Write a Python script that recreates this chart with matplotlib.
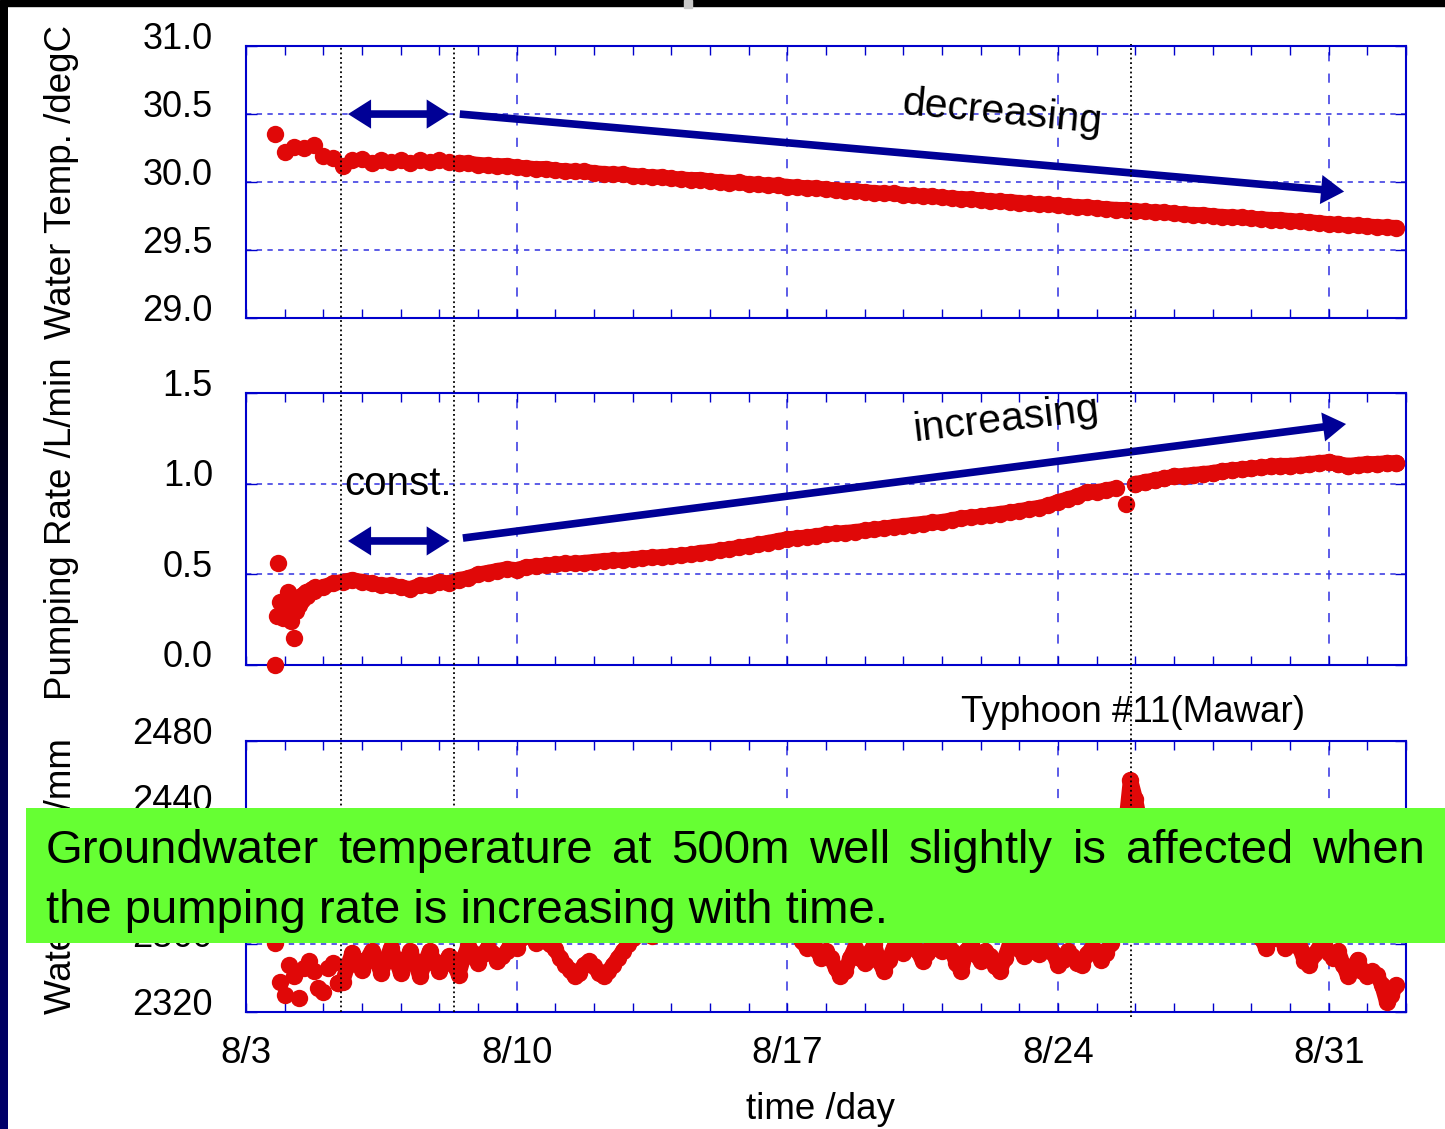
import numpy as np
import matplotlib
matplotlib.use('Agg')
from matplotlib import pyplot as plt
from matplotlib import transforms
from matplotlib.patches import Rectangle, FancyArrowPatch
from matplotlib.lines import Line2D
from matplotlib.colors import LinearSegmentedColormap

#time axis is days counted from 8/3 00:00
#water temperature, every 6 hours from 8/3 18:00
temp_start, temp_step = 0.75, 0.25
temp = [30.35, 30.22, 30.26, 30.25,
        30.27, 30.19, 30.18, 30.12,
        30.16, 30.17, 30.14, 30.16,
        30.15, 30.16, 30.14, 30.16,
        30.15, 30.16, 30.15, 30.14,
        30.140, 30.128, 30.125, 30.118,
        30.121, 30.108, 30.104, 30.097,
        30.099, 30.087, 30.082, 30.078,
        30.078, 30.068, 30.062, 30.057,
        30.058, 30.047, 30.043, 30.036,
        30.037, 30.027, 30.022, 30.017,
        30.018, 30.007, 30.002, 29.996,
        29.997, 29.987, 29.983, 29.977,
        29.976, 29.967, 29.962, 29.957,
        29.956, 29.947, 29.942, 29.937,
        29.936, 29.927, 29.922, 29.917,
        29.916, 29.907, 29.902, 29.896,
        29.896, 29.887, 29.882, 29.877,
        29.876, 29.867, 29.862, 29.857,
        29.856, 29.848, 29.843, 29.838,
        29.837, 29.829, 29.824, 29.818,
        29.817, 29.808, 29.803, 29.798,
        29.797, 29.788, 29.784, 29.779,
        29.778, 29.770, 29.765, 29.760,
        29.759, 29.751, 29.746, 29.742,
        29.741, 29.733, 29.729, 29.724,
        29.723, 29.716, 29.712, 29.707,
        29.700, 29.693, 29.688, 29.684,
        29.682, 29.676, 29.671, 29.668,
        29.665]

#pumping rate, hourly during start-up then every 6 hours
pump_early_start, pump_early_step = 0.75, 1.0 / 24
pump_early = [0.00, 0.27, 0.56, 0.35, 0.28, 0.26, 0.33, 0.36, 0.40, 0.30,
              0.24, 0.34, 0.15, 0.30, 0.36, 0.33, 0.38, 0.36, 0.39, 0.40,
              0.38, 0.41, 0.40, 0.42, 0.41, 0.43]
pump_start, pump_step = 2.0, 0.25
pump = [0.43, 0.45, 0.46, 0.47,
        0.46, 0.45, 0.44, 0.44,
        0.43, 0.42, 0.44, 0.44,
        0.46, 0.45, 0.47, 0.48,
        0.50, 0.51, 0.52, 0.53,
        0.525, 0.54, 0.545, 0.55,
        0.555, 0.56, 0.56, 0.565,
        0.57, 0.575, 0.578, 0.58,
        0.585, 0.59, 0.593, 0.597,
        0.60, 0.605, 0.61, 0.62,
        0.625, 0.632, 0.64, 0.648,
        0.657, 0.665, 0.675, 0.685,
        0.695, 0.70, 0.705, 0.712,
        0.72, 0.726, 0.73, 0.735,
        0.742, 0.748, 0.754, 0.762,
        0.768, 0.774, 0.78, 0.786,
        0.79, 0.80, 0.81, 0.815,
        0.82, 0.828, 0.835, 0.842,
        0.85, 0.86, 0.868, 0.88,
        0.90, 0.915, 0.93, 0.955,
        0.955, 0.965, 0.975, 0.89,
        1.00, 1.01, 1.02, 1.03,
        1.04, 1.045, 1.05, 1.055,
        1.06, 1.07, 1.075, 1.08,
        1.085, 1.09, 1.095, 1.10,
        1.10, 1.105, 1.11, 1.115,
        1.12, 1.11, 1.10, 1.105,
        1.11, 1.11, 1.115, 1.115]

#water level, every 3 hours from 8/3 18:00
level_start, level_step = 0.75, 0.125
level = [2361, 2338, 2330, 2348, 2341, 2328, 2346, 2350,
         2344, 2334, 2332, 2346, 2349, 2337, 2338, 2347,
         2355, 2350, 2345, 2351, 2356, 2350, 2343, 2351,
         2358, 2351, 2343, 2350, 2356, 2349, 2341, 2349,
         2356, 2350, 2344, 2349, 2353, 2348, 2342, 2352,
         2359, 2355, 2349, 2354, 2358, 2355, 2350, 2353,
         2356, 2362, 2358, 2364, 2368, 2365, 2361, 2364,
         2362, 2360, 2357, 2352, 2348, 2345, 2341, 2343,
         2348, 2350, 2347, 2343, 2341, 2344, 2348, 2352,
         2356, 2360, 2364, 2368, 2372, 2368, 2365, 2370,
         2376, 2372, 2368, 2374, 2380, 2376, 2371, 2377,
         2383, 2379, 2374, 2379, 2384, 2380, 2375, 2379,
         2383, 2378, 2373, 2377, 2380, 2375, 2370, 2373,
         2376, 2371, 2366, 2368, 2366, 2362, 2358, 2362,
         2357, 2352, 2356, 2352, 2346, 2341, 2344, 2352,
         2358, 2352, 2349, 2355, 2360, 2350, 2344, 2351,
         2358, 2360, 2355, 2358, 2362, 2356, 2350, 2355,
         2361, 2358, 2356, 2362, 2356, 2349, 2344, 2356,
         2360, 2354, 2350, 2356, 2353, 2347, 2344, 2352,
         2360, 2363, 2357, 2353, 2358, 2356, 2354, 2358,
         2361, 2355, 2348, 2351, 2356, 2353, 2349, 2348,
         2354, 2358, 2356, 2351, 2355, 2361, 2370, 2385,
         2430, 2457, 2446, 2432, 2425, 2418, 2412, 2408,
         2402, 2398, 2395, 2390, 2388, 2384, 2380, 2383,
         2386, 2381, 2376, 2380, 2383, 2378, 2373, 2377,
         2380, 2374, 2369, 2372, 2364, 2358, 2363, 2368,
         2364, 2358, 2363, 2367, 2358, 2350, 2348, 2354,
         2358, 2360, 2355, 2352, 2356, 2348, 2341, 2346,
         2351, 2344, 2341, 2344, 2342, 2336, 2326, 2330,
         2336]

date_ticks = [0, 7, 14, 21, 28]
date_labels = ['8/3', '8/10', '8/17', '8/24', '8/31']
event_days = [2.455, 5.375, 22.9]

temp_ticks = [29.0, 29.5, 30.0, 30.5, 31.0]
pump_ticks = [0.0, 0.5, 1.0, 1.5]
level_ticks = [2320, 2360, 2400, 2440, 2480]

red = '#e00808'
navy = '#000096'
frame = '#0000cc'
gridc = '#3030e0'

plt.rcParams['font.family'] = ['Liberation Sans', 'DejaVu Sans']

fig = plt.figure(figsize=(14.45, 11.29), dpi=100)
fig.patch.set_facecolor('white')

L, W = 0.1702, 0.8028
ax1 = fig.add_axes([L, 0.7183, W, 0.2409])
ax2 = fig.add_axes([L, 0.4110, W, 0.2409])
ax3 = fig.add_axes([L, 0.1036, W, 0.2400])

#panel setup: blue frame, dashed grid, inward ticks
for ax, ticks, lim, fmt, ylab in [
        (ax1, temp_ticks, (29.0, 31.0), '{:.1f}', 'Water Temp. /degC'),
        (ax2, pump_ticks, (0.0, 1.5), '{:.1f}', 'Pumping Rate /L/min'),
        (ax3, level_ticks, (2320, 2480), '{:d}', 'Water Level /mm')]:
    ax.set_xlim(0, 30)
    ax.set_ylim(*lim)
    ax.set_xticks(date_ticks)
    ax.set_xticks(np.arange(0, 31), minor=True)
    ax.set_yticks(ticks)
    ax.yaxis.set_minor_locator(plt.NullLocator())
    for s in ax.spines.values():
        s.set_color(frame)
        s.set_linewidth(1.5)
    ax.tick_params(which='both', direction='in', top=True, right=True,
                   color=frame, labelleft=False, labelbottom=False)
    ax.tick_params(axis='x', which='both', length=6.5, width=1.0)
    ax.tick_params(axis='y', length=8, width=1.0)
    ax.xaxis.grid(True, color=gridc, linestyle=(0, (6, 8)), linewidth=1.1)
    ax.yaxis.grid(True, color=gridc, linestyle=(0, (3.5, 3.5)), linewidth=1.1)
    ax.set_axisbelow(True)
    #tick labels sit a little above their ticks
    lab_tr = (transforms.blended_transform_factory(ax.transAxes, ax.transData)
              + transforms.ScaledTranslation(0, 7 / 100, fig.dpi_scale_trans))
    for v in ticks:
        ax.text(-0.0284, v, fmt.format(v), transform=lab_tr, ha='right',
                va='center', fontsize=26, color='black')
    ax.set_ylabel(ylab, fontsize=26.5)
    ax.yaxis.set_label_coords(-0.144, 0.5)

ax3.tick_params(labelbottom=True)
ax3.set_xticks(date_ticks, date_labels, fontsize=26.5)
ax3.tick_params(axis='x', pad=17)
ax3.set_xlabel('time /day', fontsize=26.5)
ax3.xaxis.set_label_coords(0.495, -0.295)

#measured series: dense dots, so they merge into a thick band
band = dict(marker='o', ms=12.5, mew=0, color=red, lw=11,
            solid_capstyle='round', solid_joinstyle='round', clip_on=False, zorder=3)
dots = dict(marker='o', ms=12.5, mew=0, color=red, linestyle='none',
            clip_on=False, zorder=3)
t_temp = temp_start + temp_step * np.arange(len(temp))
ax1.plot(t_temp[:20], temp[:20], **dots)
ax1.plot(t_temp[19:], temp[19:], **band)
t_pe = pump_early_start + pump_early_step * np.arange(len(pump_early))
t_p = pump_start + pump_step * np.arange(len(pump))
ax2.plot(t_pe, pump_early, **dots)
ax2.plot(t_p[:83], pump[:83], **band)
ax2.plot(t_p[83:], pump[83:], **dots)
ax2.plot(t_p[84:], pump[84:], **band)
t_lv = level_start + level_step * np.arange(len(level))
ax3.plot(t_lv[:14], level[:14], **dots)
ax3.plot(t_lv[13:], level[13:], **band)

#trend arrows
def arrow(ax, p0, p1, style):
    ax.add_patch(FancyArrowPatch(p0, p1, arrowstyle=style, mutation_scale=1,
                                 lw=5.5, color=navy, shrinkA=0, shrinkB=0,
                                 joinstyle='miter', capstyle='butt',
                                 clip_on=False, zorder=4))

head = 'head_length=8.7,head_width=5.5'
arrow(ax1, (2.64, 30.5), (5.27, 30.5), '<|-|>,' + head)
arrow(ax1, (5.53, 30.5), (28.4, 29.93), '-|>,' + head)
arrow(ax2, (2.64, 0.684), (5.27, 0.684), '<|-|>,' + head)
arrow(ax2, (5.61, 0.70), (28.45, 1.329), '-|>,' + head)

ax1.text(19.56, 30.51, 'decreasing', fontsize=29.5, rotation=-5.5,
         ha='center', va='center', clip_on=False, zorder=5)
ax2.text(19.66, 1.351, 'increasing', fontsize=29.5, rotation=6.5,
         ha='center', va='center', clip_on=False, zorder=5)
ax2.text(3.93, 0.998, 'const.', fontsize=29, ha='center', va='center',
         clip_on=False, zorder=5)
ax3.text(22.95, 2497, 'Typhoon #11(Mawar)', fontsize=26.5, ha='center',
         va='center', clip_on=False, zorder=5)

#dotted markers for the events, running through all panels
top = ax1.get_position().y1
bot = ax3.get_position().y0
ev_tr = transforms.blended_transform_factory(ax1.transData, fig.transFigure)
for i, d in enumerate(event_days):
    ext = 0.004 if i == 2 else 0.0
    fig.add_artist(Line2D([d, d], [bot - ext, top + ext * 0.5], transform=ev_tr,
                          color='black', linestyle=(0, (1, 1.6)), lw=1.3, zorder=6))

#slide frame: black strip on top, dark strip on the left
fig.add_artist(Rectangle((0, 1 - 6 / 1129), 1, 6 / 1129, transform=fig.transFigure,
                         color='black', zorder=8))
fig.add_artist(Rectangle((684 / 1445, 1 - 8 / 1129), 8 / 1445, 8 / 1129,
                         transform=fig.transFigure, color='#c8c8c8', zorder=9))
side = fig.add_axes([0, 0, 8 / 1445, 1 - 6 / 1129], zorder=7)
side.imshow(np.linspace(0, 1, 256).reshape(-1, 1), aspect='auto',
            cmap=LinearSegmentedColormap.from_list('side', ['#000000', '#000010', '#000050', '#00006a']))
side.axis('off')

#green note box
bx0, by0, by1 = 26 / 1445, 1 - 943 / 1129, 1 - 808 / 1129
fig.add_artist(Rectangle((bx0, by0), 1 - bx0, by1 - by0, transform=fig.transFigure,
                         facecolor='#66ff33', edgecolor='none', zorder=10))
line1 = 'Groundwater temperature at 500m well slightly is affected when'
line2 = 'the pumping rate is increasing with time.'
fig.canvas.draw()
r = fig.canvas.get_renderer()
words = [fig.text(0, 1 - 863 / 1129, w, fontsize=34, zorder=11, va='baseline')
         for w in line1.split()]
widths = [t.get_window_extent(r).width for t in words]
x0, x1 = 46.0, 1425.0
gap = (x1 - x0 - sum(widths)) / (len(words) - 1)
x = x0
for t, w in zip(words, widths):
    t.set_x(x / 1445)
    x += w + gap
fig.text(46 / 1445, 1 - 923 / 1129, line2, fontsize=34, zorder=11, va='baseline')

fig.savefig('out.png', dpi=100)
